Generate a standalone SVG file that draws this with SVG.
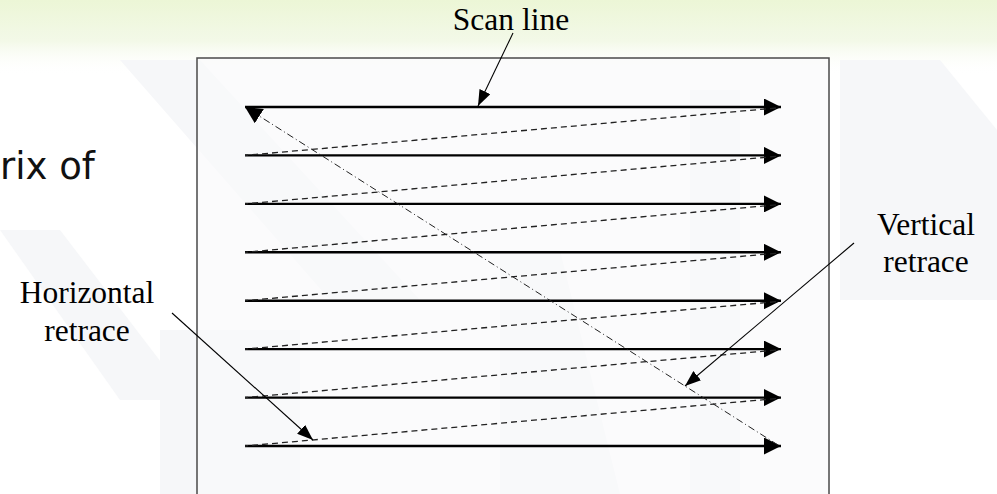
<svg xmlns="http://www.w3.org/2000/svg" width="997" height="494" viewBox="0 0 997 494">
  <defs>
    <linearGradient id="topTint" x1="0" y1="0" x2="0" y2="1">
      <stop offset="0" stop-color="#ecf6d6"/>
      <stop offset="0.55" stop-color="#f3f9e8"/>
      <stop offset="1" stop-color="#ffffff" stop-opacity="0"/>
    </linearGradient>
    <marker id="bigHead" viewBox="0 0 17 17" refX="17" refY="8.5" markerWidth="17" markerHeight="17" markerUnits="userSpaceOnUse" orient="auto">
      <path d="M0,0 L17,8.5 L0,17 Z" fill="#000"/>
    </marker>
    <marker id="smallHead" viewBox="0 0 16 12" refX="16" refY="6" markerWidth="16" markerHeight="12" markerUnits="userSpaceOnUse" orient="auto">
      <path d="M0,0 L16,6 L0,12 Z" fill="#000"/>
    </marker>
  </defs>
  <style>
    .label { font-family: "Liberation Serif", "Times New Roman", serif; font-size: 31.5px; fill: #000; text-anchor: middle; }
    .slide { font-family: "DejaVu Sans", Verdana, sans-serif; font-size: 37px; fill: #111; }
    .scan { stroke: #000; stroke-width: 2.4; fill: none; marker-end: url(#bigHead); }
    .hret { stroke: #222; stroke-width: 1.3; stroke-dasharray: 6 4; fill: none; }
    .vret { stroke: #222; stroke-width: 1; stroke-dasharray: 7 3 1 3; fill: none; marker-end: url(#bigHead); }
    .callout { stroke: #000; stroke-width: 1.1; fill: none; marker-end: url(#smallHead); }
    .shade { fill: #f6f7f9; }
  </style>

  <!-- slide background -->
  <rect x="0" y="0" width="997" height="494" fill="#ffffff"/>
  <rect x="0" y="0" width="997" height="75" fill="url(#topTint)"/>
  <g id="watermark">
    <polygon class="shade" points="120,60 200,60 420,300 330,300"/>
    <polygon class="shade" points="0,230 60,230 190,400 120,400"/>
    <polygon class="shade" points="160,330 300,330 300,494 160,494"/>
    <polygon class="shade" points="690,90 740,90 740,494 690,494"/>
    <polygon class="shade" points="840,60 940,60 997,130 997,300 840,300"/>
    <polygon class="shade" points="500,250 560,250 620,494 500,494"/>
  </g>

  <!-- partial slide text -->
  <text class="slide" x="0" y="179">rix of</text>

  <!-- raster frame -->
  <g id="frame">
    <rect x="197" y="58" width="632" height="460" fill="#f9fafb" fill-opacity="0.7" stroke="#4a4a4a" stroke-width="1.5"/>
  </g>

  <g id="connectors">
    <!-- scan lines -->
    <g id="scan-lines">
      <line class="scan" x1="245" y1="107" x2="781" y2="107"/>
      <line class="scan" x1="245" y1="155.4" x2="781" y2="155.4"/>
      <line class="scan" x1="245" y1="203.9" x2="781" y2="203.9"/>
      <line class="scan" x1="245" y1="252.3" x2="781" y2="252.3"/>
      <line class="scan" x1="245" y1="300.7" x2="781" y2="300.7"/>
      <line class="scan" x1="245" y1="349.1" x2="781" y2="349.1"/>
      <line class="scan" x1="245" y1="397.6" x2="781" y2="397.6"/>
      <line class="scan" x1="245" y1="446" x2="781" y2="446"/>
    </g>
    <!-- horizontal retrace paths -->
    <g id="horizontal-retraces">
      <line class="hret" x1="776" y1="108" x2="245" y2="155.4"/>
      <line class="hret" x1="776" y1="156.4" x2="245" y2="203.9"/>
      <line class="hret" x1="776" y1="204.9" x2="245" y2="252.3"/>
      <line class="hret" x1="776" y1="253.3" x2="245" y2="300.7"/>
      <line class="hret" x1="776" y1="301.7" x2="245" y2="349.1"/>
      <line class="hret" x1="776" y1="350.1" x2="245" y2="397.6"/>
      <line class="hret" x1="776" y1="398.6" x2="245" y2="446"/>
    </g>
    <!-- vertical retrace path -->
    <line id="vertical-retrace" class="vret" x1="778" y1="445" x2="245" y2="107"/>
    <!-- label callouts -->
    <line id="scan-callout" class="callout" x1="513" y1="33" x2="478" y2="106"/>
    <line id="vertical-callout" class="callout" x1="854" y1="243" x2="685" y2="386"/>
    <line id="horizontal-callout" class="callout" x1="172" y1="313" x2="313" y2="440"/>
  </g>

  <g id="label-scan">
    <text class="label" x="511" y="30">Scan line</text>
  </g>
  <g id="label-vertical">
    <text class="label" x="926" y="235">Vertical</text>
    <text class="label" x="926" y="272">retrace</text>
  </g>
  <g id="label-horizontal">
    <text class="label" x="87" y="303">Horizontal</text>
    <text class="label" x="87" y="341">retrace</text>
  </g>
</svg>
